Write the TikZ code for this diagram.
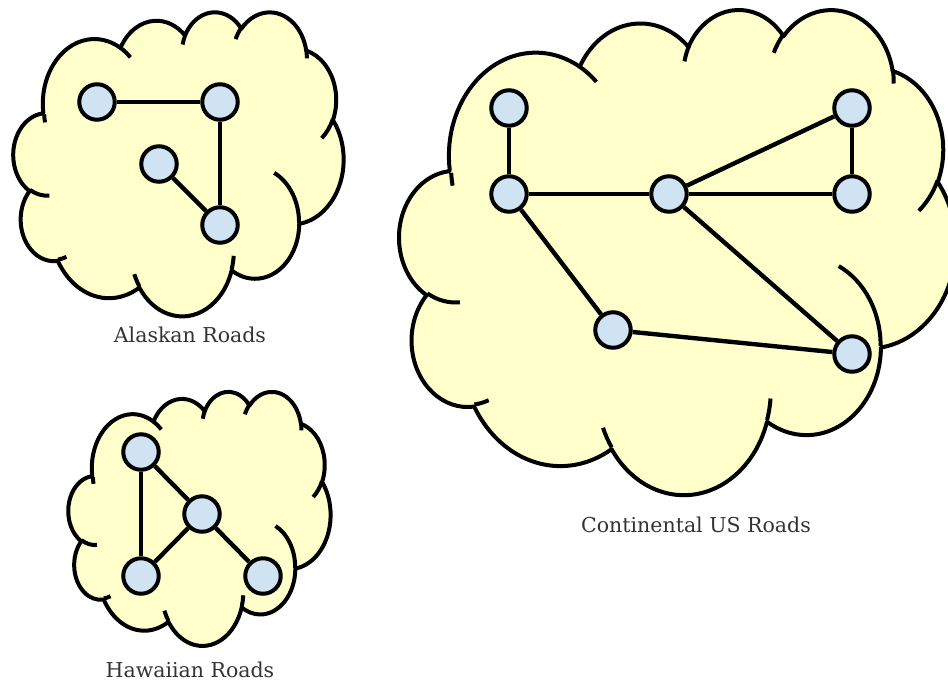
\documentclass[tikz,border=0pt]{standalone}
\usepackage{fontspec}
\setmainfont{DejaVu Serif}
\definecolor{cloudyellow}{RGB}{255,255,204}
\definecolor{townblue}{RGB}{207,227,243}
\definecolor{labelgray}{RGB}{51,51,51}
% cloud in a box: left, top, width, height (pixels)
\newcommand{\roadcloud}[4]{%
\pgfmathsetmacro{\cloudsx}{#3/43.2}%
\pgfmathsetmacro{\cloudsy}{#4/43.2}%
\begin{scope}[shift={(#1,#2)},x=\cloudsx pt,y=-\cloudsy pt]
\filldraw[cloudline,fill=cloudyellow] (3.900,14.370)
 arc[start angle=-187.75,end angle=-59.63,x radius=6.753,y radius=9.190]
 arc[start angle=-152.03,end angle=-45.44,x radius=5.333,y radius=7.267]
 arc[start angle=-153.48,end angle=-37.32,x radius=4.365,y radius=5.945]
 arc[start angle=-139.70,end angle=-10.21,x radius=4.857,y radius=6.595]
 arc[start angle=-74.77,end angle=23.21,x radius=5.333,y radius=7.273]
 arc[start angle=-37.52,end angle=81.86,x radius=6.775,y radius=9.220]
 arc[start angle=0.46,end angle=121.98,x radius=5.785,y radius=7.867]
 arc[start angle=16.85,end angle=146.27,x radius=6.752,y radius=9.215]
 arc[start angle=58.98,end angle=150.20,x radius=7.720,y radius=10.543]
 arc[start angle=83.31,end angle=223.09,x radius=4.360,y radius=5.918]
 arc[start angle=120.36,end angle=264.11,x radius=4.345,y radius=5.945]
 -- cycle;
\draw[cloudline]
 (4.693,26.177) arc[start angle=85.55,end angle=120.36,x radius=4.345,y radius=5.945]
 (6.928,34.899) arc[start angle=68.23,end angle=83.31,x radius=4.360,y radius=5.918]
 (16.478,39.090) arc[start angle=146.27,end angle=158.47,x radius=6.752,y radius=9.215]
 (28.827,34.751) arc[start angle=4.74,end angle=16.85,x radius=6.752,y radius=9.215]
 (34.129,22.954) arc[start angle=-64.03,end angle=0.46,x radius=5.785,y radius=7.867]
 (41.798,15.354) arc[start angle=23.21,end angle=49.65,x radius=5.333,y radius=7.273]
 (38.324,5.426) arc[start angle=-10.21,end angle=0.82,x radius=4.857,y radius=6.595]
 (29.078,3.952) arc[start angle=-156.29,end angle=-139.70,x radius=4.857,y radius=6.595]
 (22.141,4.720) arc[start angle=-167.73,end angle=-153.48,x radius=4.365,y radius=5.945]
 (14.000,5.192) arc[start angle=-59.63,end angle=-45.72,x radius=6.753,y radius=9.190]
 (4.127,15.789) arc[start angle=168.78,end angle=176.00,x radius=6.753,y radius=9.190];
\end{scope}}

\begin{document}
\begin{tikzpicture}[x=1pt,y=-1pt,
 cloudline/.style={line width=4pt,line join=round},
 town/.style={circle,draw,fill=townblue,line width=4pt,minimum size=35.5pt,inner sep=0pt},
 road/.style={line width=4.4pt},
 region/.style={font=\fontsize{20.5}{24}\selectfont,text=labelgray,inner sep=1pt}]
\useasboundingbox (0,0) rectangle (948,681);

% Alaska
\roadcloud{13.5}{11.3}{330}{304}
\node[town] (anchorage) at (97,102) {};
\node[town] (fairbanks) at (220,102) {};
\node[town] (juneau) at (159,164) {};
\node[town] (nome) at (220,225) {};
\draw[road] (anchorage) -- (fairbanks);
\draw[road] (fairbanks) -- (nome);
\draw[road] (juneau) -- (nome);
\node[region] (alaskalabel) at (190,335) {Alaskan Roads};

% Hawaii
\roadcloud{68.5}{391}{262}{254}
\node[town] (hilo) at (141,452) {};
\node[town] (kona) at (202,514) {};
\node[town] (lihue) at (141,576) {};
\node[town] (hana) at (263,576) {};
\draw[road] (hilo) -- (lihue);
\draw[road] (hilo) -- (kona);
\draw[road] (kona) -- (lihue);
\draw[road] (kona) -- (hana);
\node[region] (hawaiilabel) at (190,669.5) {Hawaiian Roads};

% Continental US
\roadcloud{399.5}{8.4}{556}{485}
\node[town] (seattle) at (509,108) {};
\node[town] (denver) at (509,194) {};
\node[town] (chicago) at (669,194) {};
\node[town] (boston) at (852,108) {};
\node[town] (newyork) at (852,194) {};
\node[town] (dallas) at (613,330) {};
\node[town] (miami) at (852,354) {};
\draw[road] (seattle) -- (denver);
\draw[road] (denver) -- (chicago);
\draw[road] (chicago) -- (boston);
\draw[road] (chicago) -- (newyork);
\draw[road] (boston) -- (newyork);
\draw[road] (denver) -- (dallas);
\draw[road] (dallas) -- (miami);
\draw[road] (chicago) -- (miami);
\node[region] (uslabel) at (696,525) {Continental US Roads};
\end{tikzpicture}
\end{document}
